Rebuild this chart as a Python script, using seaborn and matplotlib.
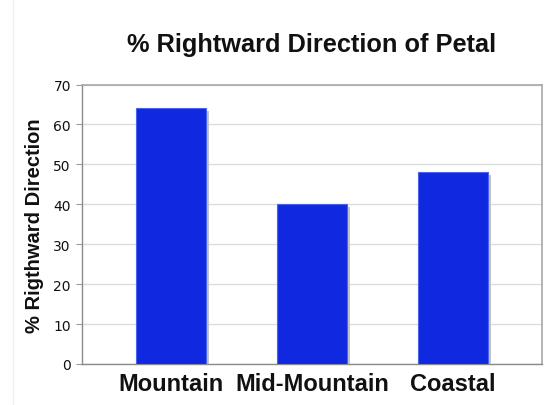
import matplotlib
matplotlib.use("Agg")
import matplotlib.pyplot as plt
import matplotlib.patheffects as pe
from matplotlib.lines import Line2D
import seaborn as sns
import pandas as pd

categories = ["Mountain", "Mid-Mountain", "Coastal"]
values = [64, 40, 48]
yticks = [0, 10, 20, 30, 40, 50, 60, 70]

sns.set_theme(style="white")
plt.rcParams['font.family'] = ['Liberation Sans', 'DejaVu Sans']

df = pd.DataFrame({"cat": categories, "val": values})

fig = plt.figure(figsize=(5.46, 4.06), dpi=100)
ax = fig.add_axes([82 / 546, 1 - 365 / 406, 460 / 546, (365 - 85.5) / 406])

sns.barplot(data=df, x="cat", y="val", ax=ax, color="#1029E0", saturation=1,
            width=0.5, edgecolor="#4a62f0", linewidth=0.8, zorder=3)

for p in ax.patches:
    p.set_path_effects([pe.SimplePatchShadow(offset=(2.0, -2.0), shadow_rgbFace="#c4c4c4", alpha=1.0),
                        pe.Normal()])

ax.set_ylim(0, 70)
ax.set_xlim(-0.63, 2.63)
ax.set_yticks(yticks)
ax.set_yticklabels([str(t) for t in yticks], fontfamily="DejaVu Sans", fontsize=10, color="#111111")
ax.yaxis.grid(True, color="#dcdcdc", linewidth=1.0, zorder=0)
ax.set_axisbelow(True)

for side in ["left", "bottom"]:
    ax.spines[side].set_color("#8a8a8a")
    ax.spines[side].set_linewidth(1.0)
for side in ["top", "right"]:
    ax.spines[side].set_color("#a8a8a8")
    ax.spines[side].set_linewidth(1.2)

ax.tick_params(axis="y", length=4, width=0.8, color="#999999", pad=4, left=True)
ax.tick_params(axis="x", length=0, pad=6)
for lab in ax.get_xticklabels():
    lab.set_fontsize(17)
    lab.set_fontweight("bold")
    lab.set_color("#111111")

ax.set_xlabel("")
ax.set_ylabel("% Rigthward Direction", fontsize=14.5, fontweight="bold", color="#111111")
ax.yaxis.set_label_coords(-0.082, 0.5)
ax.set_title("% Rightward Direction of Petal", fontsize=18.3, fontweight="bold", color="#111111", pad=24)

# faint page border line on the left
fig.add_artist(Line2D([12.5 / 546, 12.5 / 546], [0, 1], transform=fig.transFigure,
                      color="#efefef", linewidth=1))

fig.savefig("out.png", dpi=100)
